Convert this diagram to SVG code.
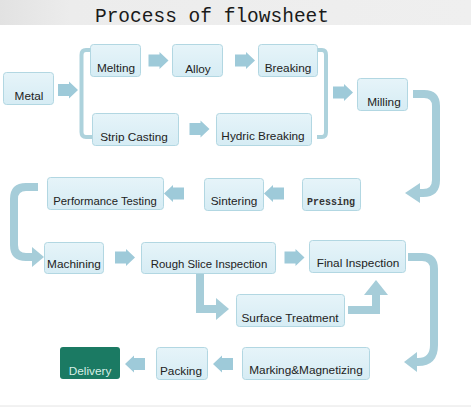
<svg xmlns="http://www.w3.org/2000/svg" width="471" height="407" viewBox="0 0 471 407">
<defs>
<linearGradient id="bg" x1="0" y1="0" x2="0" y2="1">
<stop offset="0" stop-color="#e6f4f9"/>
<stop offset="1" stop-color="#d6ecf4"/>
</linearGradient>
<linearGradient id="hdr" x1="0" y1="0" x2="1" y2="0">
<stop offset="0" stop-color="#e2e2e2"/>
<stop offset="0.15" stop-color="#ececec"/>
<stop offset="1" stop-color="#efefef"/>
</linearGradient>
<path id="ar" d="M-10,-6 H1 V-8.5 L10,0 L1,8.5 V6 H-10 Z"/>
</defs>
<style>
.box{fill:url(#bg);stroke:#b2d7e2;stroke-width:1}
.t{font-family:"Liberation Sans",Arial,sans-serif;font-size:11.8px;fill:#222;text-anchor:middle}
.arr{fill:#9ecad9}
.ln{fill:none;stroke:#a6cdd9;stroke-width:8}
.br{fill:none;stroke:#add2dc;stroke-width:4}
.hd{fill:#a6cdd9}
</style>
<rect x="0" y="0" width="471" height="25" fill="url(#hdr)"/>
<text x="212" y="22" font-family="'Liberation Mono','DejaVu Sans Mono',monospace" font-size="19.5" fill="#1a1a1a" text-anchor="middle">Process of flowsheet</text>
<line x1="0" y1="406" x2="471" y2="406" stroke="#e4e4e4" stroke-width="1"/>

<g id="connectors">
<path class="br" d="M91,50 H86 Q81.5,50 81.5,55 V132 Q81.5,137 86,137 H92"/>
<path class="br" d="M317,50 H322 Q326,50 326,55 V132 Q326,137 322,137 H317"/>
<use href="#ar" class="arr" transform="translate(68,90)"/>
<use href="#ar" class="arr" transform="translate(158.5,60.5)"/>
<use href="#ar" class="arr" transform="translate(245,60.5)"/>
<use href="#ar" class="arr" transform="translate(199.5,129)"/>
<use href="#ar" class="arr" transform="translate(343,92.5)"/>
<use href="#ar" class="arr" transform="translate(274,193.5) rotate(180)"/>
<use href="#ar" class="arr" transform="translate(174,193.5) rotate(180)"/>
<use href="#ar" class="arr" transform="translate(125,257.5)"/>
<use href="#ar" class="arr" transform="translate(294.5,257.5)"/>
<use href="#ar" class="arr" transform="translate(135,364) rotate(180)"/>
<use href="#ar" class="arr" transform="translate(223,364) rotate(180)"/>
<path class="ln" d="M413,94 H424 Q436,94 436,106 V180 Q436,193 423,193 H419"/>
<polygon class="hd" points="405,193 420,183 420,203"/>
<path class="ln" d="M38,187 H26 Q14,187 14,199 V245 Q14,257 26,257 H33"/>
<polygon class="hd" points="44,257 32,247 32,267"/>
<path class="ln" d="M200,273 V309 H217"/>
<polygon class="hd" points="229,309 216,298 216,320"/>
<path class="ln" d="M348,310 H376 V294"/>
<polygon class="hd" points="376,280 364,295 388,295"/>
<path class="ln" d="M408,257 H422 Q434,257 434,269 V345 Q434,362 418,362 H416"/>
<polygon class="hd" points="404,362 417,352 417,372"/>
</g>

<g id="metal"><rect class="box" x="3.5" y="72.5" width="50" height="32" rx="3"/><text class="t" x="29" y="100">Metal</text></g>
<g id="melting"><rect class="box" x="90.5" y="44.5" width="50" height="32" rx="3"/><text class="t" x="116" y="72">Melting</text></g>
<g id="alloy"><rect class="box" x="172.5" y="44.5" width="50" height="32" rx="3"/><text class="t" x="198" y="73">Alloy</text></g>
<g id="breaking"><rect class="box" x="258.5" y="44.5" width="59" height="32" rx="3"/><text class="t" x="288" y="72">Breaking</text></g>
<g id="strip-casting"><rect class="box" x="92.5" y="113.5" width="86" height="32" rx="3"/><text class="t" x="134" y="141">Strip Casting</text></g>
<g id="hydric-breaking"><rect class="box" x="216.5" y="113.5" width="95" height="32" rx="3"/><text class="t" x="263" y="140">Hydric Breaking</text></g>
<g id="milling"><rect class="box" x="357.5" y="78.5" width="50" height="32" rx="3"/><text class="t" x="384" y="106">Milling</text></g>
<g id="pressing"><rect class="box" x="302.5" y="178.5" width="58" height="32" rx="3"/><text x="331" y="205" font-family="'Liberation Mono','DejaVu Sans Mono',monospace" font-size="10" font-weight="bold" fill="#333" text-anchor="middle">Pressing</text></g>
<g id="sintering"><rect class="box" x="204.5" y="178.5" width="59" height="32" rx="3"/><text class="t" x="234" y="205">Sintering</text></g>
<g id="performance-testing"><rect class="box" x="47.5" y="177.5" width="116" height="32" rx="3"/><text class="t" x="105" y="205" style="font-size:11.3px">Performance Testing</text></g>
<g id="machining"><rect class="box" x="44.5" y="242.5" width="59" height="31" rx="3"/><text class="t" x="74" y="268">Machining</text></g>
<g id="rough-slice-inspection"><rect class="box" x="141.5" y="242.5" width="134" height="31" rx="3"/><text class="t" x="209" y="268" style="font-size:11.4px">Rough Slice Inspection</text></g>
<g id="final-inspection"><rect class="box" x="309.5" y="240.5" width="96" height="32" rx="3"/><text class="t" x="358" y="267">Final Inspection</text></g>
<g id="surface-treatment"><rect class="box" x="236.5" y="294.5" width="108" height="32" rx="3"/><text class="t" x="290" y="322">Surface Treatment</text></g>
<g id="marking-magnetizing"><rect class="box" x="242.5" y="347.5" width="127" height="32" rx="3"/><text class="t" x="306" y="374">Marking&amp;Magnetizing</text></g>
<g id="packing"><rect class="box" x="156.5" y="347.5" width="51" height="32" rx="3"/><text class="t" x="181" y="375">Packing</text></g>
<g id="delivery"><rect x="60" y="347" width="60" height="32" rx="3" fill="#1b7a63"/><text class="t" x="90" y="375" style="fill:#d8efe6">Delivery</text></g>
</svg>
